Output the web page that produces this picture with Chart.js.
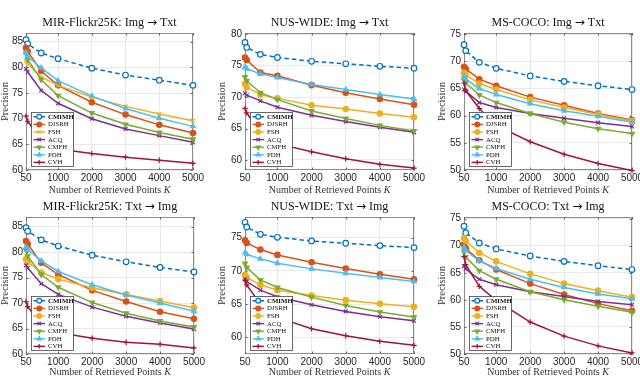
<!DOCTYPE html>
<html><head><meta charset="utf-8">
<script src="https://cdn.jsdelivr.net/npm/chart.js@4.4.1/dist/chart.umd.min.js"></script>
<style>
html,body{margin:0;padding:0;background:#fff;width:640px;height:377px;overflow:hidden;position:relative}
canvas{position:absolute}
</style></head><body>
<script>
// ---------- data ----------
const kValues = [50, 100, 500, 1000, 2000, 3000, 4000, 5000];
const xTickValues = [50, 1000, 2000, 3000, 4000, 5000];
const xTickLabels = ['50', '1000', '2000', '3000', '4000', '5000'];
const methods = ['CMIMH', 'DJSRH', 'FSH', 'ACQ', 'CMFH', 'PDH', 'CVH'];

// series order follows `methods`
const mirImgTxt = [
  [85.4, 84.6, 82.8, 81.7, 79.85, 78.5, 77.5, 76.5],
  [83.8, 83.1, 79.3, 76.5, 73.2, 70.8, 68.8, 67.2],
  [81.2, 80.7, 78.1, 76.5, 74.2, 72.4, 70.9, 69.6],
  [79.7, 79.1, 75.5, 73.0, 70.0, 68.0, 66.7, 65.4],
  [82.7, 81.5, 77.6, 74.5, 71.1, 68.9, 67.3, 66.0],
  [82.85, 82.1, 79.9, 77.4, 74.4, 72.0, 70.1, 68.5],
  [70.5, 69.5, 65.8, 64.1, 63.2, 62.5, 61.9, 61.3]
];
const nusImgTxt = [
  [78.7, 77.9, 76.8, 76.3, 75.7, 75.3, 74.9, 74.6],
  [76.3, 75.9, 73.9, 73.4, 71.9, 70.7, 69.7, 68.8],
  [72.1, 71.6, 70.4, 69.8, 68.7, 68.1, 67.4, 66.8],
  [70.6, 70.3, 69.4, 68.4, 67.1, 66.1, 65.2, 64.4],
  [73.2, 72.6, 70.7, 69.6, 67.8, 66.6, 65.5, 64.6],
  [74.8, 74.5, 73.7, 73.1, 72.0, 71.2, 70.4, 69.7],
  [68.2, 67.5, 64.4, 62.6, 61.3, 60.2, 59.3, 58.7]
];
const cocoImgTxt = [
  [73.05, 71.95, 69.8, 68.7, 67.3, 66.3, 65.5, 64.8],
  [69.0, 68.6, 66.7, 65.5, 63.4, 61.9, 60.4, 59.2],
  [67.9, 67.5, 65.9, 64.8, 62.9, 61.5, 60.2, 59.0],
  [64.8, 64.5, 62.4, 61.5, 60.4, 59.5, 58.7, 58.0],
  [66.5, 66.0, 63.8, 62.4, 60.4, 58.8, 57.6, 56.7],
  [67.3, 66.7, 65.0, 63.9, 62.2, 60.9, 59.9, 58.8],
  [66.0, 64.6, 61.3, 58.2, 55.2, 52.9, 51.2, 49.9]
];
const mirTxtImg = [
  [84.8, 84.1, 82.4, 81.2, 79.4, 78.1, 77.0, 76.1],
  [82.2, 81.6, 77.9, 75.6, 72.5, 70.3, 68.3, 66.9],
  [78.6, 78.1, 76.0, 74.7, 73.0, 71.7, 70.4, 69.1],
  [77.4, 76.9, 73.8, 71.7, 69.2, 67.4, 66.1, 64.9],
  [80.4, 79.2, 75.6, 73.1, 70.1, 68.0, 66.5, 65.3],
  [81.0, 80.5, 78.3, 76.2, 73.6, 71.6, 70.0, 68.4],
  [70.3, 69.3, 65.8, 64.2, 63.1, 62.3, 61.9, 61.2]
];
const nusTxtImg = [
  [77.3, 76.6, 75.5, 75.05, 74.5, 74.15, 73.8, 73.5],
  [74.6, 74.2, 73.2, 72.4, 71.3, 70.35, 69.5, 68.75],
  [69.4, 69.0, 67.9, 67.1, 66.3, 65.6, 65.05, 64.6],
  [68.7, 68.4, 67.1, 66.1, 64.9, 63.9, 63.1, 62.5],
  [71.1, 70.5, 68.65, 67.5, 66.05, 64.8, 63.8, 63.05],
  [72.75, 72.5, 71.8, 71.15, 70.3, 69.65, 69.0, 68.4],
  [68.6, 67.9, 65.0, 63.0, 61.3, 60.25, 59.4, 58.8]
];
const cocoTxtImg = [
  [73.6, 72.4, 70.5, 69.4, 68.1, 67.1, 66.3, 65.6],
  [70.2, 69.5, 67.3, 65.6, 63.0, 61.0, 59.3, 58.0],
  [71.4, 70.9, 68.7, 67.1, 64.8, 63.0, 61.7, 60.5],
  [66.2, 65.7, 63.8, 62.8, 61.5, 60.6, 59.7, 59.1],
  [68.8, 67.9, 65.4, 63.8, 61.5, 60.0, 58.8, 57.7],
  [69.7, 69.1, 67.2, 65.8, 63.8, 62.3, 61.1, 60.2],
  [68.0, 66.5, 62.5, 59.9, 55.9, 53.3, 51.5, 50.2]
];

const yTicksMir = [60, 65, 70, 75, 80, 85];
const yTicksNus = [60, 65, 70, 75, 80];
const yTicksNus2 = [60, 65, 70, 75];
const yTicksCoco = [50, 55, 60, 65, 70, 75];

const panelTitles = [
  'MIR-Flickr25K: Img \u2192 Txt', 'NUS-WIDE: Img \u2192 Txt', 'MS-COCO: Img \u2192 Txt',
  'MIR-Flickr25K: Txt \u2192 Img', 'NUS-WIDE: Txt \u2192 Img', 'MS-COCO: Txt \u2192 Img'
];
const xTitleMain = 'Number of Retrieved Points ';
const xTitleVar = 'K';
const yTitle = 'Precision';

// ---------- styles ----------
const colors = ['#0072BD', '#D95319', '#EDB120', '#7E2F8E', '#77AC30', '#4DBEEE', '#A2142F'];
const markers = ['circle', 'circle', 'circle', 'crossRot', 'triangle', 'triangle', 'cross'];
const rotations = [0, 0, 0, 0, 180, 0, 0];

const panels = [
  {data: mirImgTxt, yMin: 60, yMax: 86.7, yTicks: yTicksMir, plot: [26, 33, 193, 170], ylabX: 5, xGap: 20, fshMarker: 'crossRot'},
  {data: nusImgTxt, yMin: 58.4, yMax: 80.2, yTicks: yTicksNus, plot: [245, 33, 414, 170], ylabX: 222, xGap: 20},
  {data: cocoImgTxt, yMin: 50, yMax: 75.2, yTicks: yTicksCoco, plot: [464, 33, 632, 170], ylabX: 442, xGap: 20},
  {data: mirTxtImg, yMin: 60, yMax: 86.9, yTicks: yTicksMir, plot: [26, 217, 194, 354], ylabX: 5, xGap: 18},
  {data: nusTxtImg, yMin: 57.5, yMax: 78.1, yTicks: yTicksNus2, plot: [245, 217, 414, 354], ylabX: 222, xGap: 18},
  {data: cocoTxtImg, yMin: 50, yMax: 75.3, yTicks: yTicksCoco, plot: [464, 217, 632, 354], ylabX: 442, xGap: 18}
];

const SERIF = '"Liberation Serif", "DejaVu Serif", serif';
const SANS = '"Liberation Sans", Arial, sans-serif';

function drawMarker(ctx, style, x, y, r, rot, color, fill) {
  ctx.save();
  ctx.strokeStyle = color; ctx.fillStyle = fill; ctx.lineWidth = 1.2;
  if (Chart.helpers && Chart.helpers.drawPoint) {
    Chart.helpers.drawPoint(ctx, {pointStyle: style, radius: r, rotation: rot, borderWidth: 1.2}, x, y);
  }
  ctx.restore();
}

function drawTitle(ctx, text, cx, cy) {
  const parts = text.split('\u2192');
  const fL = '12px ' + SERIF;
  const fA = '12px "DejaVu Sans", sans-serif';
  ctx.font = fL; const w0 = ctx.measureText(parts[0]).width;
  const w2 = ctx.measureText(parts[1]).width;
  ctx.font = fA; const w1 = ctx.measureText('\u2192').width;
  let x = cx - (w0 + w1 + w2) / 2;
  ctx.textAlign = 'left'; ctx.textBaseline = 'middle';
  ctx.font = fL; ctx.fillText(parts[0], x, cy); x += w0;
  ctx.font = fA; ctx.fillText('\u2192', x, cy); x += w1;
  ctx.font = fL; ctx.fillText(parts[1], x, cy);
}

const decor = {
  id: 'decor',
  beforeDatasetsDraw(chart) {
    const {ctx, chartArea: a, scales: {x, y}} = chart;
    ctx.save();
    ctx.strokeStyle = '#8c8c8c'; ctx.lineWidth = 1;
    ctx.strokeRect(Math.round(a.left) + 0.5, Math.round(a.top) + 0.5,
      Math.round(a.right - a.left) - 1, Math.round(a.bottom - a.top) - 1);
    ctx.strokeStyle = '#666'; ctx.beginPath();
    x.ticks.forEach(t => {
      const px = Math.round(x.getPixelForValue(t.value)) + 0.5;
      ctx.moveTo(px, a.bottom); ctx.lineTo(px, a.bottom - 2.5);
      ctx.moveTo(px, a.top); ctx.lineTo(px, a.top + 2.5);
    });
    y.ticks.forEach(t => {
      const py = Math.round(y.getPixelForValue(t.value)) + 0.5;
      ctx.moveTo(a.left, py); ctx.lineTo(a.left + 2.5, py);
      ctx.moveTo(a.right, py); ctx.lineTo(a.right - 2.5, py);
    });
    ctx.stroke();
    ctx.restore();
  },
  afterDatasetsDraw(chart, args, opts) {
    const {ctx, chartArea: a} = chart;
    ctx.save();
    // title
    ctx.fillStyle = '#111';
    drawTitle(ctx, opts.title, (a.left + a.right) / 2, a.top - 10);
    // x axis title with italic K
    ctx.fillStyle = '#333';
    ctx.textBaseline = 'middle';
    ctx.font = '10px ' + SERIF;
    const w1 = ctx.measureText(xTitleMain).width;
    ctx.font = 'italic 10px ' + SERIF;
    const w2 = ctx.measureText(xTitleVar).width;
    const sx = (a.left + a.right) / 2 - (w1 + w2) / 2;
    ctx.textAlign = 'left';
    ctx.font = '10px ' + SERIF;
    ctx.fillText(xTitleMain, sx, a.bottom + opts.xGap);
    ctx.font = 'italic 10px ' + SERIF;
    ctx.fillText(xTitleVar, sx + w1, a.bottom + opts.xGap);
    // legend
    const lw = 42, lh = 54;
    const lx = Math.round(a.left + 5) + 0.5, ly = Math.round(a.bottom - 4 - lh) + 0.5;
    ctx.fillStyle = '#fff'; ctx.fillRect(lx, ly, lw, lh);
    ctx.strokeStyle = '#444'; ctx.lineWidth = 0.8; ctx.strokeRect(lx, ly, lw, lh);
    chart.data.datasets.forEach((ds, i) => {
      const cy = ly + 4.3 + i * 7.6;
      ctx.save();
      ctx.strokeStyle = ds.borderColor; ctx.lineWidth = 1.4;
      ctx.setLineDash(ds.borderDash || []);
      ctx.beginPath(); ctx.moveTo(lx + 2, cy); ctx.lineTo(lx + 13.5, cy); ctx.stroke();
      ctx.restore();
      drawMarker(ctx, ds.pointStyle, lx + 7.7, cy, 2.4, ds.pointRotation || 0, ds.borderColor, ds.pointBackgroundColor);
      ctx.fillStyle = '#111';
      ctx.font = (i === 0 ? 'bold ' : '') + '6.8px ' + SERIF;
      ctx.textAlign = 'left'; ctx.textBaseline = 'middle';
      ctx.fillText(ds.label, lx + 16.5, cy + 0.3);
    });
    ctx.restore();
  }
};

panels.forEach((p, idx) => {
  const [L, T, R, B] = p.plot;
  const cLeft = p.ylabX - 6;
  const cTop = T - 18;
  const xH = p.xGap + 7;
  const cW = R + 14 - cLeft;
  const cH = B + xH - cTop;
  const cv = document.createElement('canvas');
  cv.width = cW; cv.height = cH;
  cv.style.left = cLeft + 'px'; cv.style.top = cTop + 'px';
  cv.style.width = cW + 'px'; cv.style.height = cH + 'px';
  document.body.appendChild(cv);

  const datasets = methods.map((m, i) => {
    const style = (i === 2 && p.fshMarker) ? p.fshMarker : markers[i];
    return {
      label: m,
      data: kValues.map((k, j) => ({x: k, y: p.data[i][j]})),
      borderColor: colors[i],
      backgroundColor: colors[i],
      pointBackgroundColor: i === 0 ? '#fff' : colors[i],
      pointBorderColor: colors[i],
      pointStyle: style,
      pointRotation: rotations[i],
      pointRadius: i === 0 ? 2.8 : 2.7,
      pointBorderWidth: 1.2,
      borderWidth: 1.5,
      borderDash: i === 0 ? [4.5, 3] : [],
      tension: 0,
      clip: false,
      order: 7 - i
    };
  });

  new Chart(cv, {
    type: 'line',
    data: {datasets},
    options: {
      responsive: false, animation: false, devicePixelRatio: 1,
      layout: {padding: {left: 0, top: 18, right: 14, bottom: 0}},
      plugins: {
        legend: {display: false}, tooltip: {enabled: false}, title: {display: false},
        decor: {title: panelTitles[idx], xGap: p.xGap}
      },
      scales: {
        x: {
          type: 'linear', min: 50, max: 5000,
          afterBuildTicks: s => { s.ticks = xTickValues.map(v => ({value: v})); },
          afterFit: s => { s.height = xH; },
          ticks: {
            callback: (v) => xTickLabels[xTickValues.indexOf(v)],
            font: {family: SANS, size: 10}, color: '#262626', padding: 2, maxRotation: 0, autoSkip: false
          },
          grid: {color: '#e3e3e3', lineWidth: 0.8, drawTicks: false},
          border: {display: false}
        },
        y: {
          type: 'linear', min: p.yMin, max: p.yMax,
          afterBuildTicks: s => { s.ticks = p.yTicks.map(v => ({value: v})); },
          afterFit: s => { s.width = L - cLeft; },
          ticks: {font: {family: SANS, size: 10}, color: '#262626', padding: 3},
          grid: {color: '#e3e3e3', lineWidth: 0.8, drawTicks: false},
          border: {display: false},
          title: {display: true, text: yTitle, font: {family: SERIF, size: 10.5, lineHeight: '12px'}, color: '#333', padding: 0}
        }
      }
    },
    plugins: [decor]
  });
});
</script>
</body></html>
